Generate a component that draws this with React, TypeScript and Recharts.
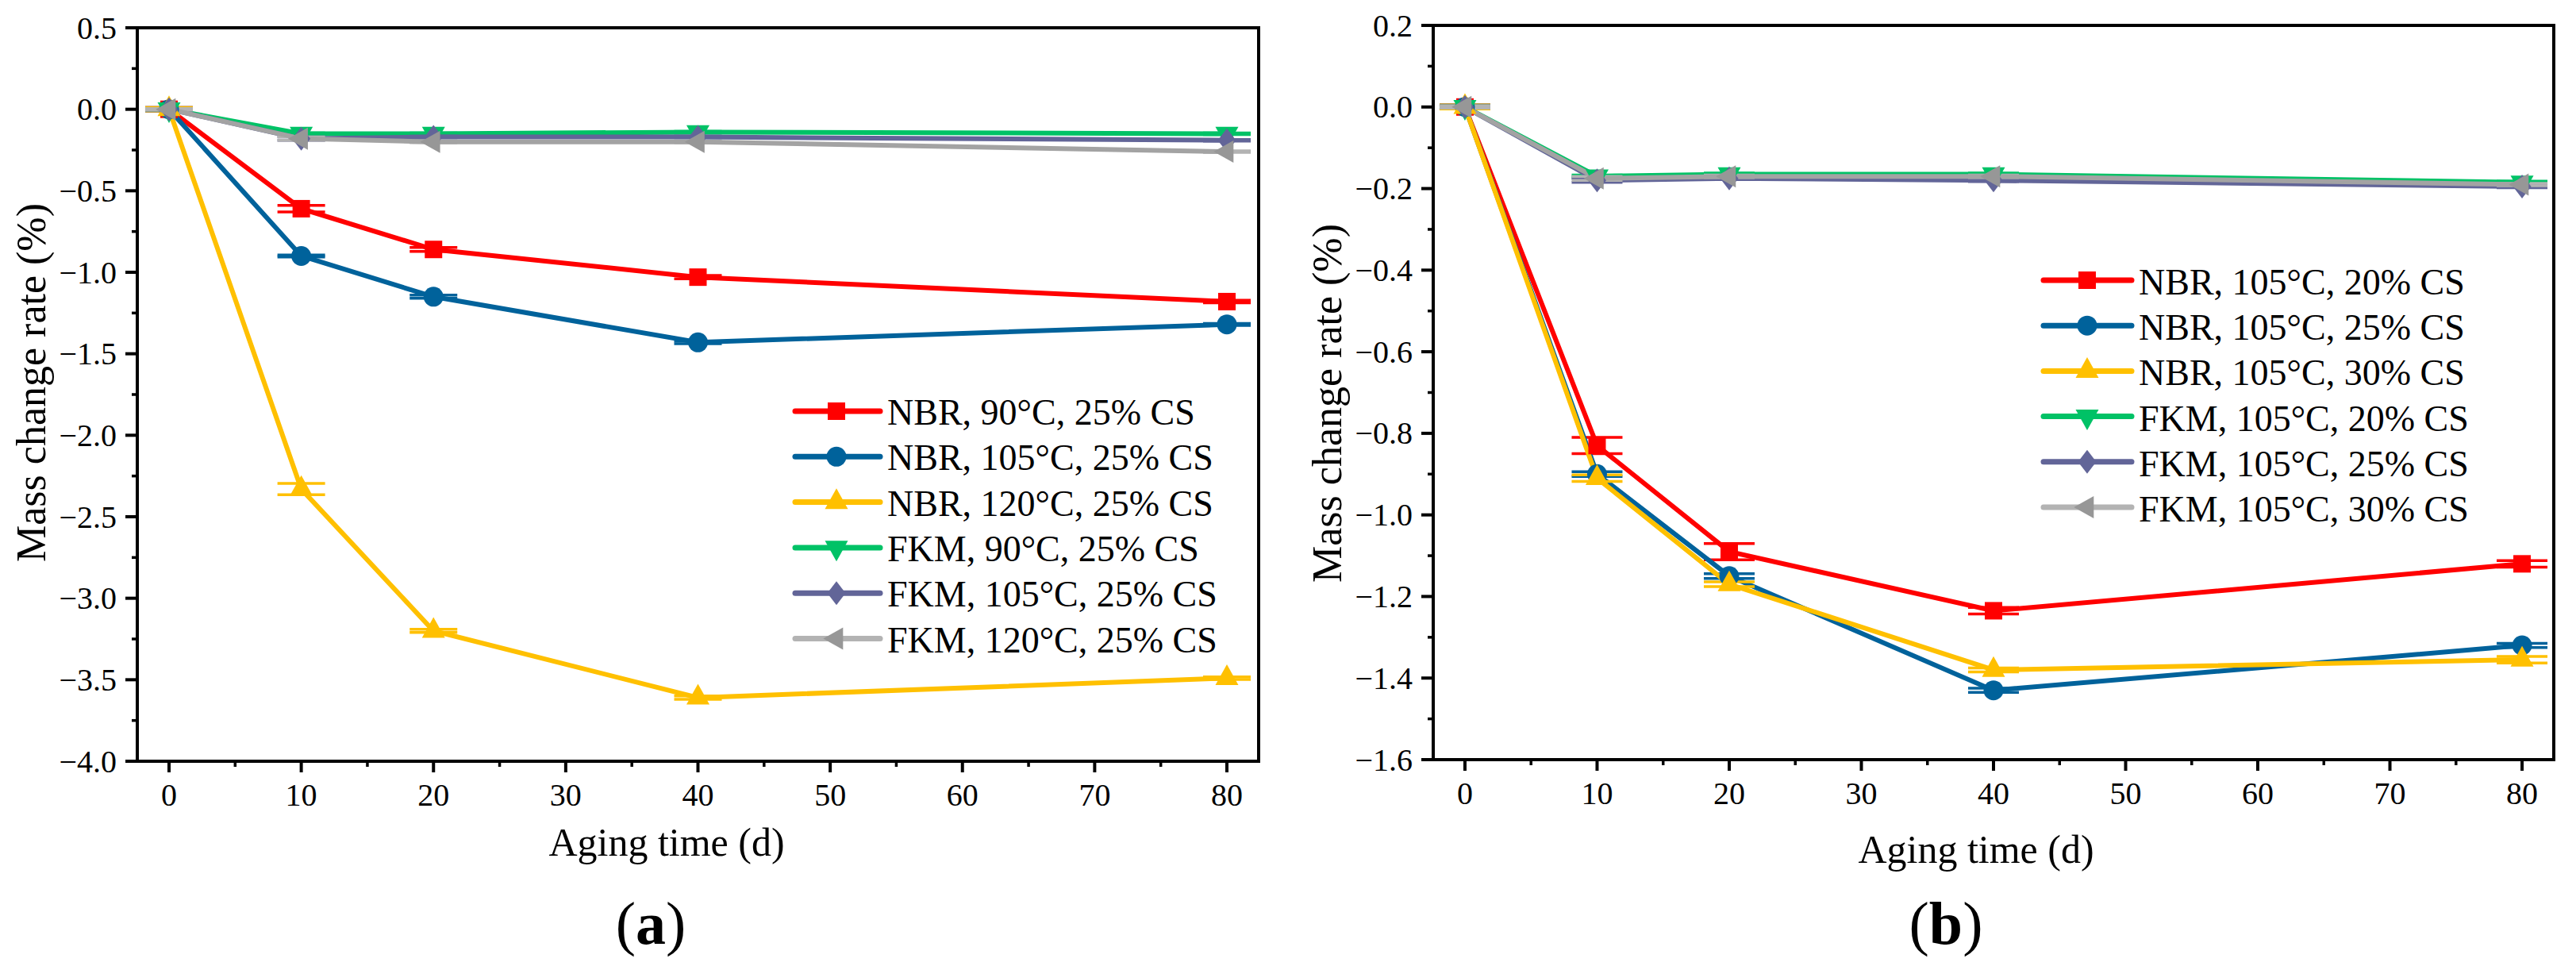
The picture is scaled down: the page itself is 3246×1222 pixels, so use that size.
import React from "react";
import {
  LineChart,
  Line,
  XAxis,
  YAxis,
  ErrorBar,
  Legend,
  ReferenceArea,
  Label,
} from "recharts";

const FONT = '"Liberation Serif", "Times New Roman", Times, serif';

// aging time (d)
const days = [0, 10, 20, 40, 80];

// (a) mass change rate (%) at 25% CS, three temperatures
const nbr90 = [0, -0.61, -0.86, -1.03, -1.18];
const nbr90Err = [0.01, 0.02, 0.012, 0.01, 0.008];
const nbr105 = [0, -0.9, -1.15, -1.43, -1.32];
const nbr105Err = [0.01, 0.006, 0.01, 0.008, 0.006];
const nbr120 = [0, -2.33, -3.2, -3.61, -3.49];
const nbr120Err = [0.01, 0.035, 0.01, 0.01, 0.008];
const fkm90 = [0, -0.15, -0.15, -0.14, -0.15];
const fkm90Err = [0.005, 0.005, 0.005, 0.005, 0.005];
const fkm105 = [0, -0.18, -0.17, -0.17, -0.19];
const fkm105Err = [0.005, 0.01, 0.005, 0.005, 0.005];
const fkm120 = [0, -0.18, -0.2, -0.2, -0.26];
const fkm120Err = [0.005, 0.01, 0.005, 0.005, 0.005];

// (b) mass change rate (%) at 105 °C, three compression ratios
const nbr20 = [0, -0.83, -1.09, -1.235, -1.12];
const nbr20Err = [0.005, 0.02, 0.02, 0.008, 0.008];
const nbr25 = [0, -0.9, -1.15, -1.43, -1.32];
const nbr25Err = [0.005, 0.006, 0.006, 0.005, 0.005];
const nbr30 = [0, -0.91, -1.17, -1.38, -1.355];
const nbr30Err = [0.005, 0.008, 0.006, 0.005, 0.008];
const fkm20 = [0, -0.17, -0.165, -0.165, -0.185];
const fkm20Err = [0.003, 0.003, 0.003, 0.003, 0.003];
const fkm25 = [0, -0.18, -0.175, -0.18, -0.195];
const fkm25Err = [0.003, 0.005, 0.003, 0.003, 0.003];
const fkm30 = [0, -0.175, -0.17, -0.17, -0.19];
const fkm30Err = [0.003, 0.005, 0.003, 0.003, 0.003];

// axis ticks
const xDomain = [-2.4, 82.4];
const xTicks = [0, 5, 10, 15, 20, 25, 30, 35, 40, 45, 50, 55, 60, 65, 70, 75, 80];
const xLabelTicks = [0, 10, 20, 30, 40, 50, 60, 70, 80];

const yDomainA = [-4, 0.5];
const yTicksA = [0.5, 0.25, 0, -0.25, -0.5, -0.75, -1, -1.25, -1.5, -1.75, -2, -2.25, -2.5, -2.75, -3, -3.25, -3.5, -3.75, -4];
const yLabelTicksA = [0.5, 0, -0.5, -1, -1.5, -2, -2.5, -3, -3.5, -4];

const yDomainB = [-1.6, 0.2];
const yTicksB = [0.2, 0.1, 0, -0.1, -0.2, -0.3, -0.4, -0.5, -0.6, -0.7, -0.8, -0.9, -1, -1.1, -1.2, -1.3, -1.4, -1.5, -1.6];
const yLabelTicksB = [0.2, 0, -0.2, -0.4, -0.6, -0.8, -1, -1.2, -1.4, -1.6];

const rowsA = days.map((day, i) => ({
  day,
  nbr90: nbr90[i], nbr90Err: nbr90Err[i],
  nbr105: nbr105[i], nbr105Err: nbr105Err[i],
  nbr120: nbr120[i], nbr120Err: nbr120Err[i],
  fkm90: fkm90[i], fkm90Err: fkm90Err[i],
  fkm105: fkm105[i], fkm105Err: fkm105Err[i],
  fkm120: fkm120[i], fkm120Err: fkm120Err[i],
}));

const rowsB = days.map((day, i) => ({
  day,
  nbr20: nbr20[i], nbr20Err: nbr20Err[i],
  nbr25: nbr25[i], nbr25Err: nbr25Err[i],
  nbr30: nbr30[i], nbr30Err: nbr30Err[i],
  fkm20: fkm20[i], fkm20Err: fkm20Err[i],
  fkm25: fkm25[i], fkm25Err: fkm25Err[i],
  fkm30: fkm30[i], fkm30Err: fkm30Err[i],
}));

const RED = "#FF0000";
const BLUE = "#00629B";
const YELLOW = "#FFC000";
const GREEN = "#00C266";
const PURPLE = "#626598";
const GRAY_LINE = "#A3A3A3";
const GRAY_MARK = "#979797";
const GRAY_LIGHT = "#B3B3B3";

const seriesA = [
  { key: "nbr90", name: "NBR, 90\u00B0C, 25% CS", line: RED, mark: RED, err: RED, legend: RED, shape: "square" },
  { key: "nbr105", name: "NBR, 105\u00B0C, 25% CS", line: BLUE, mark: BLUE, err: BLUE, legend: BLUE, shape: "circle" },
  { key: "nbr120", name: "NBR, 120\u00B0C, 25% CS", line: YELLOW, mark: YELLOW, err: YELLOW, legend: YELLOW, shape: "up" },
  { key: "fkm90", name: "FKM, 90\u00B0C, 25% CS", line: GREEN, mark: GREEN, err: GREEN, legend: GREEN, shape: "down" },
  { key: "fkm105", name: "FKM, 105\u00B0C, 25% CS", line: PURPLE, mark: PURPLE, err: PURPLE, legend: PURPLE, shape: "diamond" },
  { key: "fkm120", name: "FKM, 120\u00B0C, 25% CS", line: GRAY_LINE, mark: GRAY_MARK, err: GRAY_LIGHT, legend: GRAY_LIGHT, shape: "left" },
];

const seriesB = [
  { key: "nbr20", name: "NBR, 105\u00B0C, 20% CS", line: RED, mark: RED, err: RED, legend: RED, shape: "square" },
  { key: "nbr25", name: "NBR, 105\u00B0C, 25% CS", line: BLUE, mark: BLUE, err: BLUE, legend: BLUE, shape: "circle" },
  { key: "nbr30", name: "NBR, 105\u00B0C, 30% CS", line: YELLOW, mark: YELLOW, err: YELLOW, legend: YELLOW, shape: "up" },
  { key: "fkm20", name: "FKM, 105\u00B0C, 20% CS", line: GREEN, mark: GREEN, err: GREEN, legend: GREEN, shape: "down" },
  { key: "fkm25", name: "FKM, 105\u00B0C, 25% CS", line: PURPLE, mark: PURPLE, err: PURPLE, legend: PURPLE, shape: "diamond" },
  { key: "fkm30", name: "FKM, 105\u00B0C, 30% CS", line: GRAY_LINE, mark: GRAY_MARK, err: GRAY_LIGHT, legend: GRAY_LIGHT, shape: "left" },
];

function Marker({ shape, cx, cy, color }: any) {
  if (cx == null || cy == null) return null;
  switch (shape) {
    case "square":
      return <rect x={cx - 11} y={cy - 11} width={22} height={22} fill={color} />;
    case "circle":
      return <circle cx={cx} cy={cy} r={12.5} fill={color} />;
    case "up":
      return <polygon points={`${cx},${cy - 17.3} ${cx + 14.5},${cy + 8.7} ${cx - 14.5},${cy + 8.7}`} fill={color} />;
    case "down":
      return <polygon points={`${cx},${cy + 17.3} ${cx + 14.5},${cy - 8.7} ${cx - 14.5},${cy - 8.7}`} fill={color} />;
    case "diamond":
      return <polygon points={`${cx},${cy - 15} ${cx + 11.5},${cy} ${cx},${cy + 15} ${cx - 11.5},${cy}`} fill={color} />;
    case "left":
      return <polygon points={`${cx - 16.7},${cy} ${cx + 8.3},${cy - 14} ${cx + 8.3},${cy + 14}`} fill={color} />;
    default:
      return null;
  }
}

const fmt = (v: number) => {
  const s = Math.abs(v).toFixed(1);
  return v < -1e-9 ? "\u2212" + s : s;
};

const isIn = (list: number[], v: number) => list.some((t) => Math.abs(t - v) < 1e-6);

function renderYTick(props: any, labels: number[]) {
  const { x, y, payload } = props;
  const major = isIn(labels, payload.value);
  return (
    <g>
      <line x1={x - (major ? 15 : 7)} x2={x} y1={y} y2={y} stroke="#000" strokeWidth={major ? 4 : 3.5} />
      {major && (
        <text x={x - 26} y={y + 13.5} textAnchor="end" fontFamily={FONT} fontSize={40} fill="#000">
          {fmt(payload.value)}
        </text>
      )}
    </g>
  );
}

function renderXTick(props: any) {
  const { x, y, payload } = props;
  const major = isIn(xLabelTicks, payload.value);
  return (
    <g>
      <line x1={x} x2={x} y1={y} y2={y + (major ? 14 : 7)} stroke="#000" strokeWidth={major ? 4 : 3.5} />
      {major && (
        <text x={x} y={y + 56} textAnchor="middle" fontFamily={FONT} fontSize={40} fill="#000">
          {payload.value}
        </text>
      )}
    </g>
  );
}

function LegendBox({ series, lg }: any) {
  return (
    <svg width={600} height={360} style={{ display: "block" }}>
      {series.map((s: any, i: number) => {
        const cy = lg.y0 + i * lg.step;
        return (
          <g key={s.key}>
            <line x1={lg.x1} x2={lg.x2} y1={cy} y2={cy} stroke={s.legend} strokeWidth={7} strokeLinecap="round" />
            <Marker shape={s.shape} cx={lg.mx} cy={cy} color={s.mark} />
            <text x={lg.tx} y={cy + lg.dy} fontFamily={FONT} fontSize={46} fill="#000">
              {s.name}
            </text>
          </g>
        );
      })}
    </svg>
  );
}

const panels = [
  {
    id: "a",
    left: 0,
    data: rowsA,
    series: seriesA,
    yDomain: yDomainA,
    yTicks: yTicksA,
    yLabels: yLabelTicksA,
    yAxisWidth: 173,
    top: 35,
    right: 37,
    xAxisHeight: 263,
    yTitle: { x: 57, y: 482 },
    xTitle: { x: 840, y: 1078 },
    legend: { left: 995, top: 485, y0: 33, step: 57.3, x1: 7, x2: 114, mx: 59, tx: 123, dy: 17 },
    capWidth: 30,
  },
  {
    id: "b",
    left: 1623,
    data: rowsB,
    series: seriesB,
    yDomain: yDomainB,
    yTicks: yTicksB,
    yLabels: yLabelTicksB,
    yAxisWidth: 183,
    top: 32,
    right: 28,
    xAxisHeight: 265,
    yTitle: { x: 67, y: 508 },
    xTitle: { x: 867, y: 1087 },
    legend: { left: 937, top: 320, y0: 33, step: 57.2, x1: 15, x2: 126, mx: 70, tx: 135, dy: 18 },
    capWidth: 32,
  },
];

function Panel({ p }: any) {
  return (
    <div style={{ position: "absolute", left: p.left, top: 0 }}>
      <LineChart
        width={1623}
        height={1222}
        data={p.data}
        margin={{ top: p.top, right: p.right, bottom: 0, left: 0 }}
      >
        <XAxis
          type="number"
          dataKey="day"
          domain={xDomain}
          allowDataOverflow
          ticks={xTicks}
          interval={0}
          height={p.xAxisHeight}
          tickSize={0}
          tickMargin={0}
          tickLine={false}
          axisLine={{ stroke: "#000", strokeWidth: 4 }}
          tick={(props: any) => renderXTick(props)}
        >
          <Label
            content={() => (
              <text x={p.xTitle.x} y={p.xTitle.y} textAnchor="middle" fontFamily={FONT} fontSize={50} fill="#000">
                Aging time (d)
              </text>
            )}
          />
        </XAxis>
        <YAxis
          type="number"
          domain={p.yDomain}
          allowDataOverflow
          ticks={p.yTicks}
          interval={0}
          width={p.yAxisWidth}
          tickSize={0}
          tickMargin={0}
          tickLine={false}
          axisLine={{ stroke: "#000", strokeWidth: 4 }}
          tick={(props: any) => renderYTick(props, p.yLabels)}
        >
          <Label
            content={() => (
              <text
                x={p.yTitle.x}
                y={p.yTitle.y}
                transform={`rotate(-90 ${p.yTitle.x} ${p.yTitle.y})`}
                textAnchor="middle"
                fontFamily={FONT}
                fontSize={52}
                fill="#000"
              >
                Mass change rate (%)
              </text>
            )}
          />
        </YAxis>
        <ReferenceArea
          x1={xDomain[0]}
          x2={xDomain[1]}
          y1={p.yDomain[0]}
          y2={p.yDomain[1]}
          fill="none"
          stroke="#000"
          strokeWidth={4}
          ifOverflow="visible"
        />
        {p.series.map((s: any) => (
          <Line
            key={s.key}
            type="linear"
            dataKey={s.key}
            name={s.name}
            stroke={s.line}
            strokeWidth={6}
            isAnimationActive={false}
            activeDot={false}
            dot={(d: any) => (
              <Marker key={`${s.key}-${d.index}`} shape={s.shape} cx={d.cx} cy={d.cy} color={s.mark} />
            )}
          >
            <ErrorBar
              dataKey={`${s.key}Err`}
              width={p.capWidth}
              strokeWidth={3.5}
              stroke={s.err}
              direction="y"
              isAnimationActive={false}
            />
          </Line>
        ))}
        <Legend
          layout="vertical"
          align="center"
          verticalAlign="middle"
          wrapperStyle={{ left: p.legend.left, top: p.legend.top, width: 600, height: 360 }}
          content={() => <LegendBox series={p.series} lg={p.legend} />}
        />
      </LineChart>
    </div>
  );
}

export default function App() {
  return (
    <div
      style={{
        position: "absolute",
        left: 0,
        top: 0,
        width: 3246,
        height: 1222,
        background: "#fff",
        fontFamily: FONT,
        overflow: "hidden",
      }}
    >
      {panels.map((p) => (
        <Panel key={p.id} p={p} />
      ))}
      <svg width={3246} height={1222} style={{ position: "absolute", left: 0, top: 0, pointerEvents: "none" }}>
        <text x={820} y={1189} textAnchor="middle" fontFamily={FONT} fontSize={76} fill="#000">
          (<tspan fontWeight="bold">a</tspan>)
        </text>
        <text x={2452} y={1189} textAnchor="middle" fontFamily={FONT} fontSize={76} fill="#000">
          (<tspan fontWeight="bold">b</tspan>)
        </text>
      </svg>
    </div>
  );
}
